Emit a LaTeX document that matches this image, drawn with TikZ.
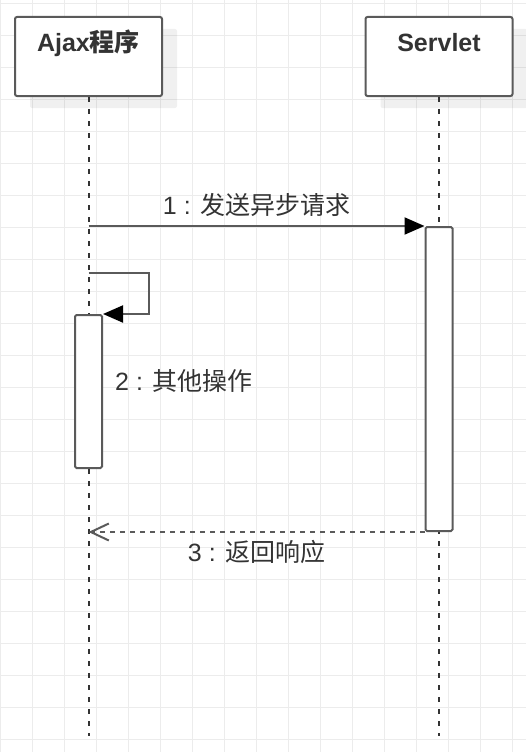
\documentclass[tikz,border=0pt]{standalone}
\usepackage{fontspec}
\setmainfont{Liberation Sans}
\newfontfamily\cjk{Noto Sans CJK SC}
\usetikzlibrary{positioning, calc, arrows.meta, shadows}
\definecolor{linegray}{RGB}{90,90,90}
\definecolor{textgray}{RGB}{51,51,51}
\definecolor{gridgray}{RGB}{236,236,236}

\begin{document}
\begin{tikzpicture}[x=1pt, y=-1pt,
        head/.style={rectangle, draw=linegray, fill=white, line width=2pt, rounded corners=2pt, minimum width=147pt, inner sep=0pt, text height=35pt, text depth=44pt, font=\fontsize{25}{30}\selectfont\bfseries, text=textgray, drop shadow={shadow xshift=15pt, shadow yshift=-12pt, fill=black, opacity=0.06}},
        act/.style={rectangle, draw=linegray, fill=white, line width=2pt, rounded corners=1.5pt, minimum width=27pt, inner sep=0pt},
        lifeline/.style={draw=textgray, line width=2pt, dash pattern=on 5pt off 7pt},
        msg/.style={draw=linegray, line width=2pt, -{Triangle[length=20pt, width=17pt, color=black]}},
        reply/.style={draw=linegray, line width=2pt, dash pattern=on 5pt off 5pt, -{Straight Barb[length=18pt, width=17pt]}},
        lbl/.style={inner sep=0pt, text=textgray, font=\fontsize{25}{30}\selectfont}
    ]
        \useasboundingbox (0,0) rectangle (526,752);

        % Grid
        \foreach \gx in {0,...,16}
            \draw[gridgray, line width=1.5pt] (0.5+32*\gx,0) -- (0.5+32*\gx,752);
        \foreach \gy in {0,...,23}
            \draw[gridgray, line width=1.5pt] (0,3.3+32*\gy) -- (526,3.3+32*\gy);

        % Lifeline heads
        \node[head] (ajax) at (88.5,56.5) {Ajax{\cjk 程序}};
        \node[head] (servlet) at (439,56.5) {Servlet};
        \coordinate (bot) at (0,736);

        \draw[lifeline] (ajax.south) -- (ajax.south |- bot);
        \draw[lifeline] (servlet.south) -- (servlet.south |- bot);

        % Activations
        \node[act, minimum height=304pt, below=129pt of servlet] (act2) {};
        \node[act, minimum height=153pt, below=217pt of ajax] (act1) {};

        % Messages
        \draw[msg] (ajax.south |- act2.north) -- (act2.north west)
            node[lbl, midway, above=8pt] {1 : {\cjk 发送异步请求}};

        \coordinate (loop) at (ajax.south |- 0,273.3);
        \draw[msg] (loop) -- ++(60,0) |- (act1.north east);
        \node[lbl, anchor=west] (op) at (115,381.2) {2 : {\cjk 其他操作}};

        \draw[reply] (act2.south west) -- (ajax.south |- act2.south)
            node[lbl, midway, below=7pt] {3 : {\cjk 返回响应}};
    \end{tikzpicture}
\end{document}
